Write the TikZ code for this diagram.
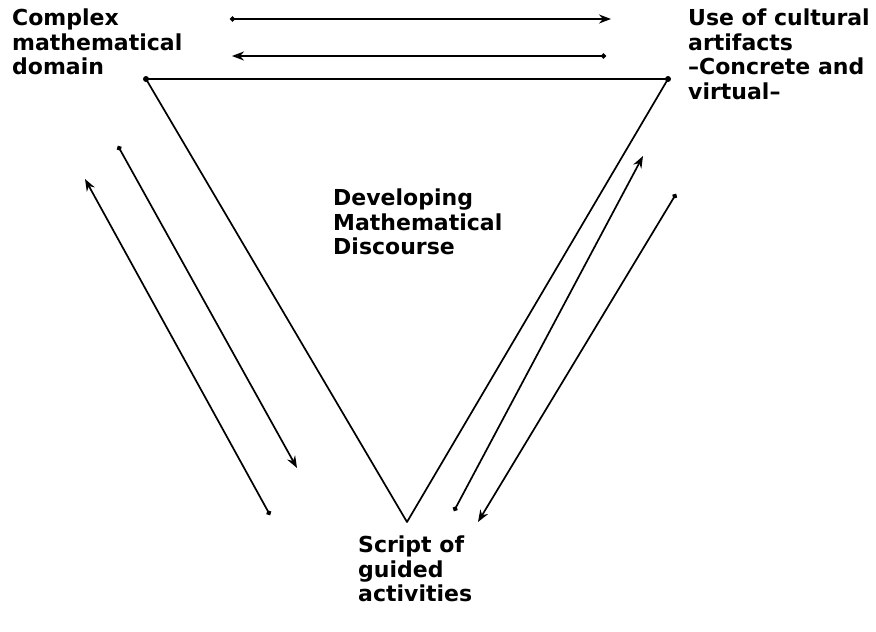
\documentclass[tikz,border=0pt]{standalone}
\usepackage{fontspec}
\setmainfont{DejaVu Sans}
\usetikzlibrary{arrows.meta}
\begin{document}
\begin{tikzpicture}[x=1pt,y=-1pt,
  lbl/.style={anchor=north west,inner sep=0pt,align=left,
    font=\fontsize{22}{24.5}\selectfont\bfseries},
  edge/.style={line width=1.7pt},
  twoway/.style={line width=1.7pt,{Circle[length=5pt]}-{Stealth[length=12pt,width=9pt]}},
  open/.style={line width=1.7pt,{Circle[length=5pt]}-{Stealth[length=12pt,width=9pt,open]}}]
\useasboundingbox (0,0) rectangle (876,632);
% triangle corners
\coordinate (A) at (146,79);
\coordinate (B) at (668,79);
\coordinate (C) at (407,522);
\draw[edge,line join=round] (A) -- (B) -- (C) -- cycle;
\fill (A) circle (3pt);
\fill (B) circle (3pt);
% arrow endpoints
\coordinate (t1s) at (230,19);  \coordinate (t1e) at (611,19);
\coordinate (t2s) at (606,56);  \coordinate (t2e) at (232,56);
\coordinate (l1s) at (118,146); \coordinate (l1e) at (297,468);
\coordinate (l2s) at (270,515); \coordinate (l2e) at (85,179);
\coordinate (r1s) at (454,511); \coordinate (r1e) at (643,156);
\coordinate (r2s) at (676,194); \coordinate (r2e) at (478,522);
\draw[twoway] (t1s) -- (t1e);
\draw[open] (t2s) -- (t2e);
\draw[twoway] (l1s) -- (l1e);
\draw[twoway] (l2s) -- (l2e);
\draw[twoway] (r1s) -- (r1e);
\draw[twoway] (r2s) -- (r2e);
% labels
\node[lbl] (cmd) at (12,9) {Complex\\mathematical\\domain};
\node[lbl] (uca) at (688,9) {Use of cultural\\artifacts\\--Concrete and\\virtual--};
\node[lbl] (dmd) at (333,189) {Developing\\Mathematical\\Discourse};
\node[lbl] (sga) at (358,536) {Script of\\guided\\activities};
\end{tikzpicture}
\end{document}
